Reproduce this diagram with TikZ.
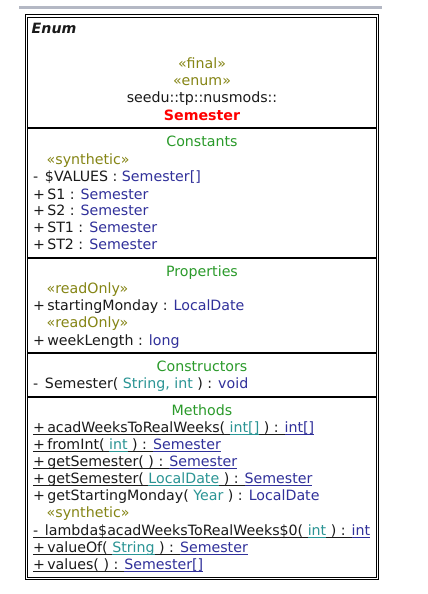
\documentclass[tikz,border=0pt]{standalone}
\usepackage{fontspec}
\setmainfont{DejaVu Sans}
\definecolor{stereo}{HTML}{858515}
\definecolor{secgreen}{HTML}{2A9A2A}
\definecolor{typeblue}{HTML}{30309A}
\definecolor{partype}{HTML}{2A9494}
\definecolor{txt}{HTML}{1A1A1A}
\definecolor{redname}{HTML}{FF0000}
\definecolor{topbar}{HTML}{B4B8C4}
% underlined run of text in a given colour (rule takes the same colour)
\newcommand\ulrun[2]{\begingroup\color{#1}\setbox0\hbox{#2}\rlap{\vrule height -1.8pt depth 2.8pt width \wd0}\box0\endgroup}
\newcommand\ty[1]{\textcolor{typeblue}{#1}}
\newcommand\pt[1]{\textcolor{partype}{#1}}
\begin{document}
\begin{tikzpicture}[x=1pt,y=-1pt,
  every node/.style={inner sep=0pt,outer sep=0pt,font=\fontsize{14.2}{16}\selectfont,text=txt},
  member/.style={anchor=base west},
  stereotype/.style={anchor=base west,text=stereo},
  title/.style={anchor=base,text=secgreen},
  head/.style={anchor=base},
  border/.style={draw=black,line width=1pt},
  divider/.style={draw=black,line width=2pt}]
\useasboundingbox[fill=white] (0,0) rectangle (428,594);
% bar above the class box
\draw[topbar,line width=2.2pt] (19,7.5) -- (382,7.5);
% double frame of the class box
\draw[border] (25.5,15) rectangle (378.5,579.3);
\draw[border] (27.8,17.3) rectangle (376.2,577.2);
% compartment dividers
\foreach \yy in {128.3,258.3,353.3,396.7}
  \draw[divider] (27.8,\yy) -- (376.2,\yy);
% header
\node[member,font=\fontsize{14.2}{16}\selectfont\bfseries\itshape] (kind) at (31.7,34) {Enum};
\node[head,text=stereo] (sfinal) at (202,68.3) {«final»};
\node[head,text=stereo] (senum) at (202,85) {«enum»};
\node[head] (pkg) at (202,102.3) {seedu::tp::nusmods::};
\node[head,text=redname,font=\fontsize{14.2}{16}\selectfont\bfseries] (cname) at (202,120) {Semester};
% constants
\node[title] (tconst) at (202,146.7) {Constants};
\node[stereotype] (csyn) at (46.7,164) {«synthetic»};
\node[member] (c0) at (33,181.7) {-\, \$VALUES : \ty{Semester[]}};
\node[member] (c1) at (33,199) {+\,S1 : \ty{Semester}};
\node[member] (c2) at (33,215.7) {+\,S2 : \ty{Semester}};
\node[member] (c3) at (33,232.7) {+\,ST1 : \ty{Semester}};
\node[member] (c4) at (33,249.3) {+\,ST2 : \ty{Semester}};
% properties
\node[title] (tprop) at (202,276.7) {Properties};
\node[stereotype] (pro1) at (46.7,293.3) {«readOnly»};
\node[member] (p1) at (33,310.7) {+\,startingMonday : \ty{LocalDate}};
\node[stereotype] (pro2) at (46.7,327.3) {«readOnly»};
\node[member] (p2) at (33,345) {+\,weekLength : \ty{long}};
% constructors
\node[title] (tctor) at (202,371.7) {Constructors};
\node[member] (k1) at (33,388.3) {-\, Semester( \pt{String, int} ) : \ty{void}};
% methods
\node[title] (tmeth) at (202,415.7) {Methods};
\node[member] (m1) at (33,432.3) {\ulrun{txt}{+\,acadWeeksToRealWeeks( }\ulrun{partype}{int[]}\ulrun{txt}{ ) : }\ulrun{typeblue}{int[]}};
\node[member] (m2) at (33,449.3) {\ulrun{txt}{+\,fromInt( }\ulrun{partype}{int}\ulrun{txt}{ ) : }\ulrun{typeblue}{Semester}};
\node[member] (m3) at (33,466) {\ulrun{txt}{+\,getSemester( ) : }\ulrun{typeblue}{Semester}};
\node[member] (m4) at (33,483.3) {\ulrun{txt}{+\,getSemester( }\ulrun{partype}{LocalDate}\ulrun{txt}{ ) : }\ulrun{typeblue}{Semester}};
\node[member] (m5) at (33,500.7) {+\,getStartingMonday( \pt{Year} ) : \ty{LocalDate}};
\node[stereotype] (msyn) at (46.7,517.3) {«synthetic»};
\node[member] (m6) at (33,535) {\ulrun{txt}{-\, lambda\$acadWeeksToRealWeeks\$0( }\ulrun{partype}{int}\ulrun{txt}{ ) : }\ulrun{typeblue}{int}};
\node[member] (m7) at (33,552.3) {\ulrun{txt}{+\,valueOf( }\ulrun{partype}{String}\ulrun{txt}{ ) : }\ulrun{typeblue}{Semester}};
\node[member] (m8) at (33,569) {\ulrun{txt}{+\,values( ) : }\ulrun{typeblue}{Semester[]}};
\end{tikzpicture}
\end{document}
